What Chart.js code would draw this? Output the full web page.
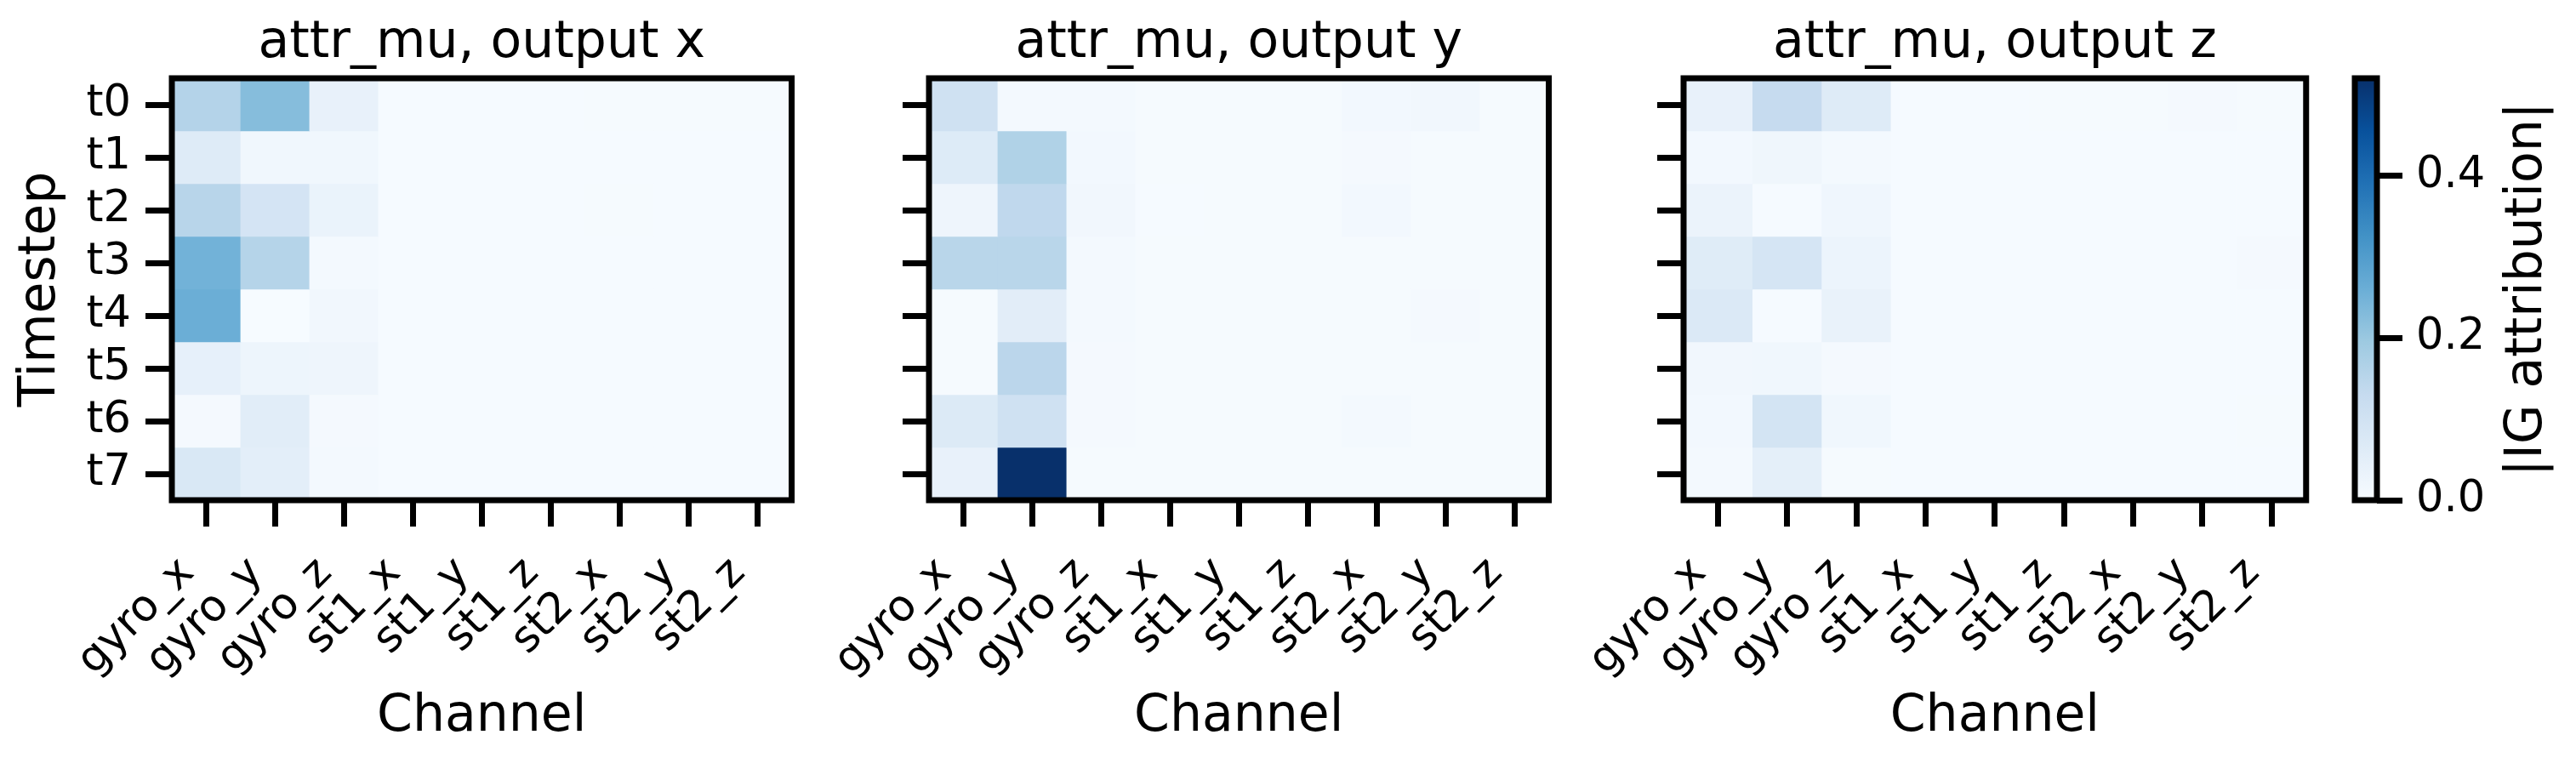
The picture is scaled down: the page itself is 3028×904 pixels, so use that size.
<!DOCTYPE html>
<html>
<head>
<meta charset="utf-8">
<script src="https://cdn.jsdelivr.net/npm/chart.js@4.4.1/dist/chart.umd.min.js"></script>
<style>
html, body { margin: 0; padding: 0; background: #fff; }
#figure { position: relative; width: 3028px; height: 904px; overflow: hidden; }
#figure canvas { position: absolute; top: 0; }
</style>
</head>
<body>
<div id="figure">
	<canvas id="panelX" width="960" height="904" style="left:0px"></canvas>
	<canvas id="panelY" width="890" height="904" style="left:960px"></canvas>
	<canvas id="panelZ" width="890" height="904" style="left:1850px"></canvas>
	<canvas id="colorbar" width="288" height="904" style="left:2740px"></canvas>
</div>
<script>
const channels = ["gyro_x", "gyro_y", "gyro_z", "st1_x", "st1_y", "st1_z", "st2_x", "st2_y", "st2_z"];
const timesteps = ["t0", "t1", "t2", "t3", "t4", "t5", "t6", "t7"];

// |IG attribution| per timestep (rows) and channel (columns)
const attrOutputX = [
	[0.160, 0.226, 0.039, 0.004, 0.004, 0.004, 0.006, 0.005, 0.005],
	[0.065, 0.018, 0.018, 0.004, 0.004, 0.004, 0.004, 0.004, 0.004],
	[0.153, 0.092, 0.034, 0.004, 0.004, 0.004, 0.006, 0.004, 0.004],
	[0.251, 0.158, 0.010, 0.004, 0.004, 0.004, 0.004, 0.004, 0.004],
	[0.260, 0.002, 0.015, 0.004, 0.004, 0.004, 0.004, 0.004, 0.004],
	[0.044, 0.026, 0.023, 0.004, 0.004, 0.004, 0.004, 0.004, 0.004],
	[0.008, 0.057, 0.008, 0.004, 0.004, 0.004, 0.004, 0.004, 0.004],
	[0.078, 0.052, 0.010, 0.004, 0.004, 0.004, 0.004, 0.004, 0.004]
];
const attrOutputY = [
	[0.106, 0.010, 0.010, 0.005, 0.005, 0.005, 0.012, 0.016, 0.006],
	[0.067, 0.166, 0.012, 0.006, 0.005, 0.005, 0.008, 0.006, 0.006],
	[0.023, 0.140, 0.015, 0.004, 0.005, 0.006, 0.012, 0.006, 0.005],
	[0.151, 0.151, 0.010, 0.005, 0.005, 0.005, 0.006, 0.006, 0.005],
	[0.005, 0.055, 0.010, 0.006, 0.005, 0.005, 0.006, 0.007, 0.005],
	[0.005, 0.148, 0.008, 0.005, 0.005, 0.005, 0.006, 0.006, 0.005],
	[0.070, 0.106, 0.008, 0.005, 0.005, 0.005, 0.010, 0.006, 0.005],
	[0.040, 0.520, 0.006, 0.005, 0.005, 0.005, 0.006, 0.006, 0.005]
];
const attrOutputZ = [
	[0.040, 0.130, 0.065, 0.004, 0.004, 0.005, 0.006, 0.007, 0.005],
	[0.012, 0.022, 0.010, 0.004, 0.004, 0.004, 0.004, 0.004, 0.004],
	[0.032, 0.004, 0.020, 0.004, 0.004, 0.004, 0.004, 0.004, 0.004],
	[0.062, 0.090, 0.028, 0.004, 0.004, 0.004, 0.004, 0.004, 0.007],
	[0.072, 0.004, 0.037, 0.004, 0.004, 0.004, 0.004, 0.004, 0.004],
	[0.016, 0.018, 0.008, 0.004, 0.004, 0.004, 0.004, 0.004, 0.004],
	[0.012, 0.094, 0.018, 0.004, 0.004, 0.004, 0.004, 0.004, 0.005],
	[0.010, 0.050, 0.006, 0.004, 0.004, 0.004, 0.004, 0.004, 0.004]
];
const panelTitles = ["attr_mu, output x", "attr_mu, output y", "attr_mu, output z"];
const colorbarTicks = [0.0, 0.2, 0.4];

// matplotlib "Blues"
const bluesStops = ["#f7fbff", "#deebf7", "#c6dbef", "#9ecae1", "#6baed6", "#4292c6", "#2171b5", "#08519c", "#08306b"];

const vmax = Math.max(...[attrOutputX, attrOutputY, attrOutputZ].flat(2));

function hexToRgb(hex) {
	const n = parseInt(hex.slice(1), 16);
	return [(n >> 16) & 255, (n >> 8) & 255, n & 255];
}

function blues(t) {
	const clamped = Math.min(Math.max(t, 0), 1);
	const pos = clamped * (bluesStops.length - 1);
	const i = Math.min(Math.floor(pos), bluesStops.length - 2);
	const f = pos - i;
	const a = hexToRgb(bluesStops[i]);
	const b = hexToRgb(bluesStops[i + 1]);
	const c = a.map((v, k) => Math.round(v + (b[k] - v) * f));
	return `rgb(${c[0]}, ${c[1]}, ${c[2]})`;
}

Chart.defaults.font.family = "'DejaVu Sans', sans-serif";
Chart.defaults.color = "#000";

const frame = {
	id: "frame",
	afterDatasetsDraw(chart) {
		const {ctx, chartArea} = chart;
		ctx.save();
		ctx.lineWidth = 7;
		ctx.strokeStyle = "#000";
		ctx.strokeRect(chartArea.left, chartArea.top, chartArea.right - chartArea.left, chartArea.bottom - chartArea.top);
		ctx.restore();
	}
};

const colorbarLabel = {
	id: "colorbarLabel",
	afterDraw(chart) {
		const {ctx, chartArea} = chart;
		ctx.save();
		ctx.translate(chart.width - 57, (chartArea.top + chartArea.bottom) / 2);
		ctx.rotate(-Math.PI / 2);
		ctx.font = "60px 'DejaVu Sans'";
		ctx.fillStyle = "#000";
		ctx.textAlign = "center";
		ctx.textBaseline = "middle";
		ctx.fillText("|IG attribution|", 0, 0);
		ctx.restore();
	}
};

function drawHeatmap(canvasId, title, values, showRowLabels, yAxisWidth, rightPad) {
	const datasets = timesteps.map((step, row) => ({
		label: step,
		data: channels.map(() => 1),
		backgroundColor: values[row].map(v => blues(v / vmax)),
		borderWidth: 0,
		barPercentage: 1,
		categoryPercentage: 1
	}));
	const tickGrid = {
		offset: false,
		drawOnChartArea: false,
		drawTicks: true,
		tickLength: 31,
		tickWidth: 7,
		tickColor: "#000"
	};
	new Chart(document.getElementById(canvasId), {
		type: "bar",
		data: {
			labels: channels,
			datasets: datasets
		},
		options: {
			responsive: false,
			animation: false,
			devicePixelRatio: 1,
			layout: {
				padding: {left: 0, right: rightPad, top: 0, bottom: 0}
			},
			plugins: {
				legend: {display: false},
				tooltip: {enabled: false},
				title: {
					display: true,
					fullSize: false,
					text: title,
					color: "#000",
					font: {size: 60, weight: "normal"},
					padding: {top: 15, bottom: 5}
				}
			},
			scales: {
				x: {
					stacked: true,
					offset: true,
					grid: tickGrid,
					border: {display: false},
					ticks: {
						font: {size: 51},
						minRotation: 45,
						maxRotation: 45,
						autoSkip: false,
						padding: 25,
						labelOffset: -22
					},
					title: {
						display: true,
						text: "Channel",
						font: {size: 60},
						padding: {top: 0, bottom: 25}
					},
					afterFit: scale => { scale.height = 316; }
				},
				y: {
					type: "linear",
					stacked: true,
					reverse: true,
					min: 0,
					max: timesteps.length,
					afterBuildTicks: scale => {
						scale.ticks = timesteps.map((_, i) => ({value: i + 0.5}));
					},
					grid: tickGrid,
					border: {display: false},
					ticks: {
						font: {size: 51},
						padding: 17,
						callback: (value, index) => showRowLabels ? timesteps[index] : ""
					},
					title: {
						display: showRowLabels,
						text: "Timestep",
						font: {size: 60},
						padding: {top: 12, bottom: 0}
					},
					afterFit: scale => { scale.width = yAxisWidth; }
				}
			}
		},
		plugins: [frame]
	});
}

function drawColorbar() {
	const gradientFill = context => {
		const area = context.chart.chartArea;
		if (!area) {
			return blues(0.5);
		}
		const gradient = context.chart.ctx.createLinearGradient(0, area.bottom, 0, area.top);
		bluesStops.forEach((c, i) => gradient.addColorStop(i / (bluesStops.length - 1), c));
		return gradient;
	};
	new Chart(document.getElementById("colorbar"), {
		type: "bar",
		data: {
			labels: [""],
			datasets: [{
				data: [vmax],
				backgroundColor: gradientFill,
				borderWidth: 0,
				barPercentage: 1,
				categoryPercentage: 1
			}]
		},
		options: {
			responsive: false,
			animation: false,
			devicePixelRatio: 1,
			layout: {
				padding: {left: 28, right: 0, top: 92, bottom: 316}
			},
			plugins: {
				legend: {display: false},
				tooltip: {enabled: false},
				title: {display: false}
			},
			scales: {
				x: {display: false},
				y: {
					position: "right",
					min: 0,
					max: vmax,
					afterBuildTicks: scale => {
						scale.ticks = colorbarTicks.map(v => ({value: v}));
					},
					grid: {
						drawOnChartArea: false,
						drawTicks: true,
						tickLength: 30,
						tickWidth: 7,
						tickColor: "#000"
					},
					border: {display: false},
					ticks: {
						font: {size: 51},
						padding: 16,
						callback: value => value.toFixed(1)
					},
					afterFit: scale => { scale.width = 234; }
				}
			}
		},
		plugins: [frame, colorbarLabel]
	});
}

document.addEventListener("DOMContentLoaded", _ => {
	drawHeatmap("panelX", panelTitles[0], attrOutputX, true, 202, 22);
	drawHeatmap("panelY", panelTitles[1], attrOutputY, false, 132, 22);
	drawHeatmap("panelZ", panelTitles[2], attrOutputZ, false, 129, 23);
	drawColorbar();
});
</script>
</body>
</html>
